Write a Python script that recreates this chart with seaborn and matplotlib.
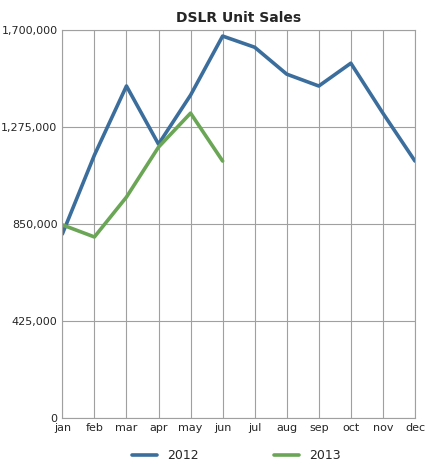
import matplotlib
matplotlib.use("Agg")
import matplotlib.pyplot as plt
import seaborn as sns
import pandas as pd

months = ["jan","feb","mar","apr","may","jun","jul","aug","sep","oct","nov","dec"]
sales_2012 = [806000,1152000,1455000,1200000,1415000,1674000,1625000,1507000,1455000,1555000,1336000,1126000]
sales_2013 = [846000,793000,968000,1187000,1336000,1126000]
yticks = [0,425000,850000,1275000,1700000]

rows = [(m, v, "2012") for m, v in zip(months, sales_2012)] + \
       [(m, v, "2013") for m, v in zip(months, sales_2013)]
df = pd.DataFrame(rows, columns=["month","sales","year"])
df["x"] = df["month"].map({m: i for i, m in enumerate(months)})

sns.set_style("white")
fig = plt.figure(figsize=(4.3, 4.71), dpi=100)
ax = fig.add_axes([0.145, 0.113, 0.82, 0.823])
sns.lineplot(data=df, x="x", y="sales", hue="year",
             palette={"2012": "#3b6e9c", "2013": "#6aa655"}, linewidth=2.6, ax=ax, legend=False)
ax.set_xlim(0, 11)
ax.set_ylim(0, 1700000)
ax.set_xticks(range(12))
ax.set_xticklabels(months, fontsize=8)
ax.set_yticks(yticks)
ax.set_yticklabels([f"{v:,}" for v in yticks], fontsize=8)
ax.grid(True, color="#a0a0a0", linewidth=0.8)
for s in ax.spines.values():
    s.set_color("#a0a0a0"); s.set_linewidth(0.8)
ax.set_xlabel(""); ax.set_ylabel("")
ax.tick_params(length=0)
ax.set_title("DSLR Unit Sales", fontsize=10, fontweight="bold", pad=6)
from matplotlib.lines import Line2D
handles = [Line2D([], [], color="#3b6e9c", lw=2.6), Line2D([], [], color="#6aa655", lw=2.6)]
fig.legend(handles, ["2012", "2013"], loc="lower center", ncol=2, frameon=False,
           fontsize=9, bbox_to_anchor=(0.55, -0.005), columnspacing=6, handlelength=2)
fig.savefig("out.png", dpi=100)
